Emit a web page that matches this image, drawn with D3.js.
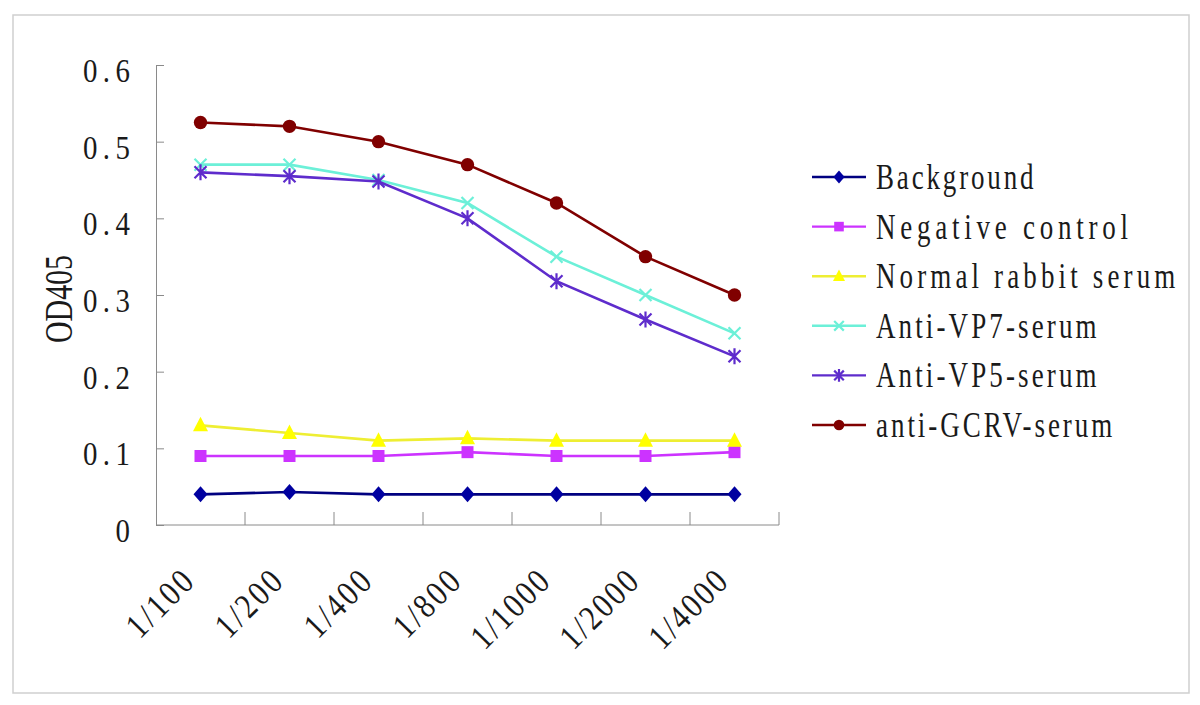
<!DOCTYPE html>
<html>
<head>
<meta charset="utf-8">
<script src="https://cdn.jsdelivr.net/npm/d3@7"></script>
<style>
  body { margin: 0; background: #fff; }
  text { font-family: "Liberation Serif", "DejaVu Serif", serif; fill: #1a1a1a; }
</style>
</head>
<body>
<div id="chart"></div>
<script>
const dilutions = ["1/100", "1/200", "1/400", "1/800", "1/1000", "1/2000", "1/4000"];
const yTicks = [0, 0.1, 0.2, 0.3, 0.4, 0.5, 0.6];

const background = [0.04, 0.043, 0.04, 0.04, 0.04, 0.04, 0.04];
const negativeControl = [0.09, 0.09, 0.09, 0.095, 0.09, 0.09, 0.095];
const normalRabbit = [0.13, 0.12, 0.11, 0.113, 0.11, 0.11, 0.11];
const antiVP7 = [0.47, 0.47, 0.45, 0.42, 0.35, 0.30, 0.25];
const antiVP5 = [0.46, 0.455, 0.448, 0.40, 0.318, 0.268, 0.22];
const antiGCRV = [0.525, 0.52, 0.50, 0.47, 0.42, 0.35, 0.30];

const seriesNames = ["Background", "Negative control", "Normal rabbit serum",
  "Anti-VP7-serum", "Anti-VP5-serum", "anti-GCRV-serum"];
const seriesValues = [background, negativeControl, normalRabbit, antiVP7, antiVP5, antiGCRV];

// styles per series
const styles = [
  { line: "#000080", mark: "#0000a0", shape: "diamond" },
  { line: "#cc33ff", mark: "#cc33ff", shape: "square" },
  { line: "#eeee33", mark: "#ffff00", shape: "triangle" },
  { line: "#6cf0d8", mark: "#6cf0d8", shape: "times" },
  { line: "#5e2ccc", mark: "#5e2ccc", shape: "asterisk" },
  { line: "#800000", mark: "#800000", shape: "circle" },
];

const width = 1200;
const height = 705;
const plot = { left: 156, right: 779, top: 65, bottom: 525 };

const svg = d3.select("#chart").append("svg")
  .attr("width", width).attr("height", height);

svg.append("rect")
  .attr("x", 13).attr("y", 15).attr("width", 1176).attr("height", 678)
  .attr("fill", "#fff").attr("stroke", "#cfcfcf").attr("stroke-width", 1.5);

// tall narrow glyphs in fixed-width cells, like the latin of a CJK font
function addText(transform, str, size, cell, squeeze, anchor) {
  return svg.append("text")
    .attr("transform", `${transform} scale(${squeeze},1)`)
    .attr("text-anchor", anchor || "start")
    .attr("textLength", (str.length * cell) / squeeze)
    .attr("lengthAdjust", "spacing")
    .style("font-size", size + "px")
    .text(str);
}

const x = d3.scaleBand().domain(dilutions).range([plot.left, plot.right]).padding(0);
const y = d3.scaleLinear().domain([0, 0.6]).range([plot.bottom, plot.top]);
const cx = (d) => x(d) + x.bandwidth() / 2;

// y axis
const yAxis = d3.axisLeft(y).tickValues(yTicks).tickSize(-8).tickFormat("");
const gy = svg.append("g").attr("transform", `translate(${plot.left},0)`).call(yAxis);
gy.select(".domain").attr("stroke", "#8a8a8a");
gy.selectAll(".tick line").attr("stroke", "#8a8a8a");

yTicks.forEach((t) => {
  addText(`translate(130, ${y(t) + 17})`, t === 0 ? "0" : d3.format(".1f")(t), 34, 15.7, 0.85, "end");
});

// x axis
svg.append("line")
  .attr("x1", plot.left).attr("x2", plot.right)
  .attr("y1", plot.bottom).attr("y2", plot.bottom)
  .attr("stroke", "#8a8a8a");
dilutions.forEach((d) => {
  const xe = x(d) + x.bandwidth();
  svg.append("line")
    .attr("x1", xe).attr("x2", xe)
    .attr("y1", plot.bottom).attr("y2", plot.bottom - 13)
    .attr("stroke", "#8a8a8a");
  addText(`translate(${cx(d) - 5}, 584) rotate(-45)`, d, 35, 15.8, 0.85, "end");
});

addText("translate(72, 299) rotate(-90)", "OD405", 40, 17.6, 0.75, "middle");

// marker shapes
function markerPath(shape, s) {
  switch (shape) {
    case "diamond":
      return `M0,${-8 * s}L${7 * s},0L0,${8 * s}L${-7 * s},0Z`;
    case "square":
      return `M${-6 * s},${-6 * s}h${12 * s}v${12 * s}h${-12 * s}Z`;
    case "triangle":
      return `M0,${-8.5 * s}L${7.5 * s},${6 * s}L${-7.5 * s},${6 * s}Z`;
    case "times":
      return `M${-6 * s},${-6 * s}L${6 * s},${6 * s}M${6 * s},${-6 * s}L${-6 * s},${6 * s}`;
    case "asterisk":
      return `M${-6 * s},${-6 * s}L${6 * s},${6 * s}M${6 * s},${-6 * s}L${-6 * s},${6 * s}M0,${-8 * s}L0,${8 * s}`;
    case "circle":
      return d3.symbol(d3.symbolCircle, 140 * s * s)();
  }
}
const stroked = (shape) => shape === "times" || shape === "asterisk";

function drawMarker(g, st, px, py, s) {
  g.append("path")
    .attr("transform", `translate(${px},${py})`)
    .attr("d", markerPath(st.shape, s))
    .attr("fill", stroked(st.shape) ? "none" : st.mark)
    .attr("stroke", stroked(st.shape) ? st.mark : "none")
    .attr("stroke-width", 2.2);
}

const line = d3.line().x((d, i) => cx(dilutions[i])).y((d) => y(d));

seriesValues.forEach((vals, k) => {
  const st = styles[k];
  const g = svg.append("g");
  g.append("path")
    .attr("d", line(vals))
    .attr("fill", "none")
    .attr("stroke", st.line)
    .attr("stroke-width", 2.6);
  vals.forEach((v, i) => drawMarker(g, st, cx(dilutions[i]), y(v), 1));
});

// legend
const legendY = d3.scalePoint().domain(seriesNames).range([177, 425]);
seriesNames.forEach((name, k) => {
  const st = styles[k];
  const ly = legendY(name);
  const g = svg.append("g");
  g.append("line")
    .attr("x1", 812).attr("x2", 866).attr("y1", ly).attr("y2", ly)
    .attr("stroke", st.line).attr("stroke-width", 2.4);
  drawMarker(g, st, 839, ly, 0.8);
  addText(`translate(876, ${ly + 12})`, name, 36, 15.75, 0.75);
});
</script>
</body>
</html>
